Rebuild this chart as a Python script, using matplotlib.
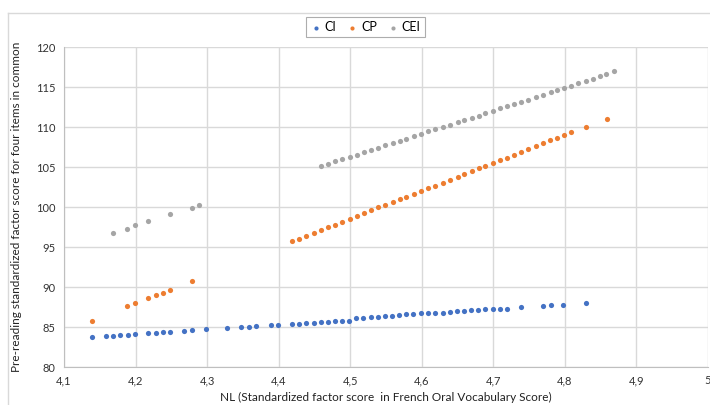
import matplotlib
matplotlib.use("Agg")
import matplotlib.pyplot as plt
from matplotlib.lines import Line2D
from matplotlib.ticker import FuncFormatter

plt.rcParams['font.family'] = ['Lato', 'DejaVu Sans']

# CI series
ci_x = [4.139, 4.159, 4.169, 4.178, 4.189, 4.199, 4.218, 4.229, 4.239, 4.248,
        4.268, 4.279, 4.298, 4.328, 4.348, 4.359, 4.369, 4.389, 4.399, 4.419,
        4.429, 4.438, 4.449, 4.459, 4.469, 4.479, 4.489, 4.498, 4.508, 4.518,
        4.529, 4.539, 4.548, 4.559, 4.568, 4.578, 4.588, 4.599, 4.608, 4.619,
        4.629, 4.639, 4.649, 4.659, 4.669, 4.679, 4.689, 4.700, 4.709, 4.719,
        4.739, 4.769, 4.780, 4.798, 4.829]
ci_y = [83.7, 83.9, 83.9, 84.0, 84.05, 84.1, 84.3, 84.3, 84.4, 84.4,
        84.5, 84.6, 84.7, 84.9, 85.0, 85.0, 85.1, 85.2, 85.3, 85.4,
        85.4, 85.5, 85.5, 85.6, 85.6, 85.7, 85.8, 85.8, 86.1, 86.15,
        86.3, 86.3, 86.4, 86.4, 86.5, 86.6, 86.6, 86.7, 86.7, 86.8,
        86.8, 86.9, 87.0, 87.0, 87.1, 87.1, 87.2, 87.2, 87.3, 87.3,
        87.5, 87.6, 87.7, 87.8, 88.0]

# CP series
cp_x = [4.139, 4.188, 4.199, 4.218, 4.229, 4.239, 4.248, 4.279,
        4.419, 4.429, 4.438, 4.449, 4.459, 4.469, 4.479, 4.489, 4.499, 4.509,
        4.519, 4.529, 4.539, 4.549, 4.560, 4.569, 4.578, 4.589, 4.599, 4.609,
        4.619, 4.629, 4.640, 4.650, 4.659, 4.670, 4.680, 4.689, 4.700, 4.709,
        4.719, 4.729, 4.739, 4.749, 4.759, 4.769, 4.779, 4.789, 4.799, 4.809,
        4.829, 4.859]
cp_y = [85.8, 87.66, 88.0, 88.66, 89.0, 89.3, 89.66, 90.8,
        95.70, 96.04, 96.37, 96.75, 97.08, 97.46, 97.79, 98.08, 98.46, 98.83,
        99.25, 99.58, 99.96, 100.29, 100.63, 101.0, 101.29, 101.66, 102.0, 102.33,
        102.66, 103.0, 103.41, 103.79, 104.13, 104.5, 104.83, 105.16, 105.5, 105.83,
        106.16, 106.5, 106.83, 107.2, 107.63, 108.0, 108.33, 108.66, 109.04, 109.38,
        110.04, 111.04]

# CEI series
cei_x = [4.169, 4.188, 4.199, 4.218, 4.248, 4.279, 4.289,
         4.459, 4.469, 4.479, 4.489, 4.499, 4.509, 4.519, 4.529, 4.539, 4.549,
         4.560, 4.569, 4.578, 4.589, 4.599, 4.609, 4.619, 4.629, 4.640, 4.650,
         4.659, 4.670, 4.680, 4.689, 4.700, 4.709, 4.719, 4.729, 4.739, 4.749,
         4.759, 4.769, 4.780, 4.789, 4.799, 4.809, 4.819, 4.829, 4.839, 4.849,
         4.858, 4.868]
cei_y = [96.75, 97.3, 97.7, 98.2, 99.1, 99.9, 100.25,
         105.16, 105.37, 105.75, 106.0, 106.29, 106.54, 106.87, 107.12, 107.41, 107.75,
         107.95, 108.29, 108.54, 108.87, 109.16, 109.45, 109.7, 110.0, 110.25, 110.62,
         110.83, 111.16, 111.41, 111.75, 112.04, 112.33, 112.66, 112.87, 113.12, 113.41,
         113.75, 114.04, 114.33, 114.58, 114.87, 115.16, 115.45, 115.7, 116.04, 116.41,
         116.66, 116.95]

fig = plt.figure(figsize=(7.1, 4.05), dpi=100)
ax = fig.add_axes([64 / 710, 38 / 405, 644 / 710, 320 / 405])

ax.scatter(ci_x, ci_y, s=14, color='#4472C4', label='CI', zorder=3, linewidths=0)
ax.scatter(cp_x, cp_y, s=14, color='#ED7D31', label='CP', zorder=3, linewidths=0)
ax.scatter(cei_x, cei_y, s=14, color='#A5A5A5', label='CEI', zorder=3, linewidths=0)

ax.set_xlim(4.1, 5.0)
ax.set_ylim(80, 120)
ax.set_xticks([4.1, 4.2, 4.3, 4.4, 4.5, 4.6, 4.7, 4.8, 4.9, 5.0])
ax.set_yticks(range(80, 121, 5))
ax.xaxis.set_major_formatter(FuncFormatter(lambda v, p: ('%g' % round(v, 1)).replace('.', ',')))
ax.grid(True, color='#d9d9d9', linewidth=1)
ax.set_axisbelow(True)
for s in ['top', 'right']:
    ax.spines[s].set_visible(False)
for s in ['left', 'bottom']:
    ax.spines[s].set_color('#bfbfbf')
ax.tick_params(length=0, labelsize=8, colors='#333333', pad=6)

ax.set_xlabel("NL (Standardized factor score  in French Oral Vocabulary Score)", fontsize=8.5, color='#222222', labelpad=4)
ax.set_ylabel("Pre-reading standardized factor score for four items in common", fontsize=8.5, color='#222222', labelpad=10)

leg = fig.legend(loc='center', bbox_to_anchor=(365 / 710, 1 - 27 / 405), ncol=3, fontsize=9,
                 frameon=True, fancybox=False, handletextpad=0.2, columnspacing=0.8,
                 borderpad=0.3, markerscale=0.8, handlelength=1.0)
leg.get_frame().set_edgecolor('#999999')
leg.get_frame().set_linewidth(0.8)

# chart area border
fig.add_artist(Line2D([8 / 710, 8 / 710], [0, 1 - 13 / 405], color='#d9d9d9', lw=1))
fig.add_artist(Line2D([8 / 710, 1], [1 - 13 / 405, 1 - 13 / 405], color='#d9d9d9', lw=1))

fig.savefig("out.png", dpi=100)
